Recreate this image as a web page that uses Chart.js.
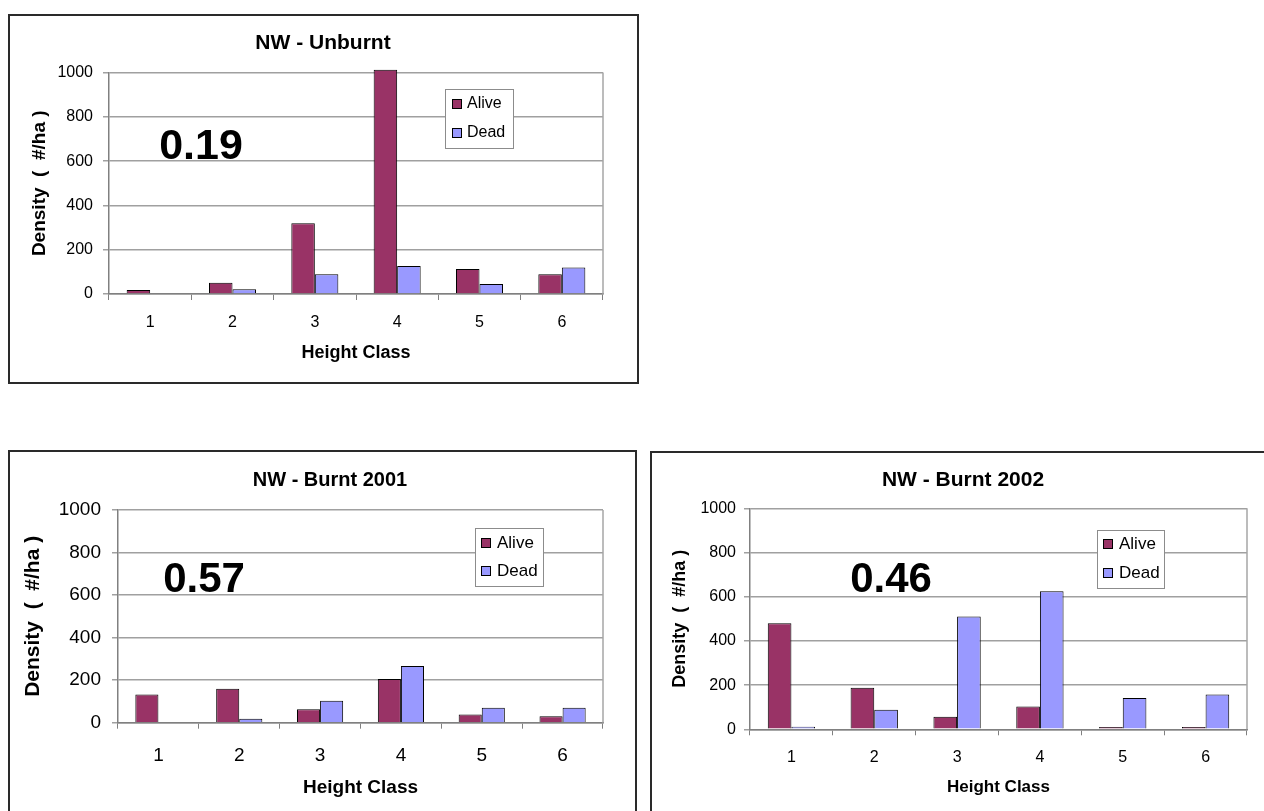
<!DOCTYPE html>
<html>
<head>
<meta charset="utf-8">
<title>NW density by height class</title>
<script src="https://cdn.jsdelivr.net/npm/chart.js@4.4.1/dist/chart.umd.min.js"></script>
<style>
  html, body { margin: 0; padding: 0; background: #fff; width: 1264px; height: 811px; overflow: hidden; }
  .panel { position: absolute; box-sizing: border-box; border: 2px solid #2a2a2a; background: #fff; }
  .panel canvas { display: block; }
</style>
</head>
<body>
<div class="panel" style="left:8px;top:14px;width:631px;height:370px"><canvas id="chart-unburnt" width="627" height="366"></canvas></div>
<div class="panel" style="left:8px;top:450px;width:629px;height:370px"><canvas id="chart-2001" width="625" height="366"></canvas></div>
<div class="panel" style="left:650px;top:451px;width:620px;height:370px"><canvas id="chart-2002" width="616" height="366"></canvas></div>

<script>
const heightClasses = ["1", "2", "3", "4", "5", "6"];
const densityTicks = [0, 200, 400, 600, 800, 1000];

const unburntAlive = [18, 51, 319, 1012, 113, 89];
const unburntDead = [0, 22, 89, 126, 45, 120];

const burnt2001Alive = [133, 160, 63, 205, 39, 30];
const burnt2001Dead = [0, 19, 103, 267, 70, 70];

const burnt2002Alive = [480, 188, 57, 103, 10, 10];
const burnt2002Dead = [12, 89, 510, 625, 142, 158];

const seriesNames = ["Alive", "Dead"];
const seriesColors = ["#993366", "#9999ff"];

const FONT = "'Liberation Sans', Arial, Helvetica, sans-serif";

// title, big number and legend box are drawn straight onto the canvas
const panelDecor = {
  id: "panelDecor",
  beforeDatasetsDraw(chart) {
    const { ctx, chartArea: a } = chart;
    ctx.save();
    ctx.strokeStyle = "#a6a6a6";
    ctx.lineWidth = 1.5;
    ctx.beginPath();
    ctx.moveTo(a.right, a.top);
    ctx.lineTo(a.right, a.bottom);
    ctx.stroke();
    ctx.restore();
  },
  afterDraw(chart, args, opts) {
    const { ctx } = chart;
    ctx.save();
    ctx.fillStyle = "#000";
    ctx.textAlign = "center";
    ctx.textBaseline = "alphabetic";
    ctx.font = `bold ${opts.titleSize}px ${FONT}`;
    ctx.fillText(opts.title, opts.titleX, opts.titleY);
    ctx.font = `bold ${opts.noteSize}px ${FONT}`;
    ctx.fillText(opts.note, opts.noteX, opts.noteY);

    const lg = opts.legend;
    ctx.fillStyle = "#fff";
    ctx.fillRect(lg.x, lg.y, lg.w, lg.h);
    ctx.strokeStyle = "#8c8c8c";
    ctx.lineWidth = 1;
    ctx.strokeRect(lg.x + 0.5, lg.y + 0.5, lg.w, lg.h);
    ctx.font = `${lg.size}px ${FONT}`;
    ctx.textAlign = "left";
    ctx.textBaseline = "middle";
    chart.data.datasets.forEach((ds, i) => {
      const cy = lg.rows[i];
      ctx.fillStyle = ds.backgroundColor;
      ctx.fillRect(lg.boxX, cy - 5, 10, 10);
      ctx.strokeStyle = "#000";
      ctx.strokeRect(lg.boxX + 0.5, cy - 4.5, 9, 9);
      ctx.fillStyle = "#000";
      ctx.fillText(ds.label, lg.textX, cy);
    });
    ctx.restore();
  }
};

function makeChart(id, alive, dead, cfg) {
  const ctx = document.getElementById(id);
  const canvasH = ctx.height;
  return new Chart(ctx, {
    type: "bar",
    data: {
      labels: heightClasses,
      datasets: [alive, dead].map((values, i) => ({
        label: seriesNames[i],
        data: values,
        backgroundColor: seriesColors[i],
        borderColor: "#000",
        borderWidth: 1,
        categoryPercentage: 0.571,
        barPercentage: 1.0,
        clip: 6
      }))
    },
    options: {
      responsive: false,
      animation: false,
      devicePixelRatio: 1,
      layout: { padding: { left: 0, top: cfg.area.top, right: ctx.width - cfg.area.right, bottom: 0 } },
      plugins: {
        legend: { display: false },
        title: { display: false },
        tooltip: { enabled: false },
        panelDecor: cfg.decor
      },
      scales: {
        x: {
          afterFit: s => { s.height = canvasH - cfg.area.bottom; },
          grid: { drawOnChartArea: false, drawTicks: true, tickLength: 6, color: "#808080", offset: true },
          border: { color: "#808080", width: 1.5 },
          ticks: { color: "#000", font: { family: FONT, size: cfg.tickSize }, padding: cfg.xTickPad },
          title: {
            display: true, text: "Height Class", color: "#000",
            font: { family: FONT, size: cfg.xTitleSize, weight: "bold" },
            padding: { top: 0, bottom: cfg.xTitlePad }
          }
        },
        y: {
          min: 0,
          max: 1000,
          afterFit: s => { s.width = cfg.area.left; },
          afterBuildTicks: s => { s.ticks = densityTicks.map(v => ({ value: v })); },
          grid: { color: "#a0a0a0", lineWidth: 1.5, tickLength: 6 },
          border: { color: "#808080", width: 1.5 },
          ticks: {
            color: "#000", font: { family: FONT, size: cfg.tickSize }, padding: cfg.yTickPad,
            callback: v => String(v)
          },
          title: {
            display: true, text: "Density  (  #/ha )", color: "#000",
            font: { family: FONT, size: cfg.yTitleSize, weight: "bold" },
            padding: { top: cfg.yTitlePad, bottom: 0 }
          }
        }
      }
    },
    plugins: [panelDecor]
  });
}

makeChart("chart-unburnt", unburntAlive, unburntDead, {
  area: { left: 99, right: 593, top: 56.5, bottom: 278 },
  tickSize: 16, xTickPad: 13, yTickPad: 10,
  xTitleSize: 18, xTitlePad: 18, yTitleSize: 19, yTitlePad: 18.6,
  decor: {
    title: "NW - Unburnt", titleSize: 21, titleX: 313, titleY: 33,
    note: "0.19", noteSize: 43, noteX: 191, noteY: 143,
    legend: { x: 435, y: 73, w: 68, h: 59, size: 16, boxX: 442, textX: 457, rows: [88, 117] }
  }
});

makeChart("chart-2001", burnt2001Alive, burnt2001Dead, {
  area: { left: 108, right: 593, top: 58, bottom: 270.7 },
  tickSize: 19, xTickPad: 16, yTickPad: 11,
  xTitleSize: 19, xTitlePad: 18.6, yTitleSize: 21, yTitlePad: 10.4,
  decor: {
    title: "NW - Burnt 2001", titleSize: 20, titleX: 320, titleY: 34,
    note: "0.57", noteSize: 42, noteX: 194, noteY: 140,
    legend: { x: 465, y: 76, w: 68, h: 58, size: 17, boxX: 471, textX: 487, rows: [91, 119] }
  }
});

makeChart("chart-2002", burnt2002Alive, burnt2002Dead, {
  area: { left: 98, right: 595, top: 55.3, bottom: 276.3 },
  tickSize: 16, xTickPad: 13, yTickPad: 8,
  xTitleSize: 17, xTitlePad: 21.8, yTitleSize: 18, yTitlePad: 17.2,
  decor: {
    title: "NW - Burnt 2002", titleSize: 21, titleX: 311, titleY: 33,
    note: "0.46", noteSize: 42, noteX: 239, noteY: 139,
    legend: { x: 445, y: 77, w: 67, h: 58, size: 17, boxX: 451, textX: 467, rows: [91, 120] }
  }
});
</script>
</body>
</html>
